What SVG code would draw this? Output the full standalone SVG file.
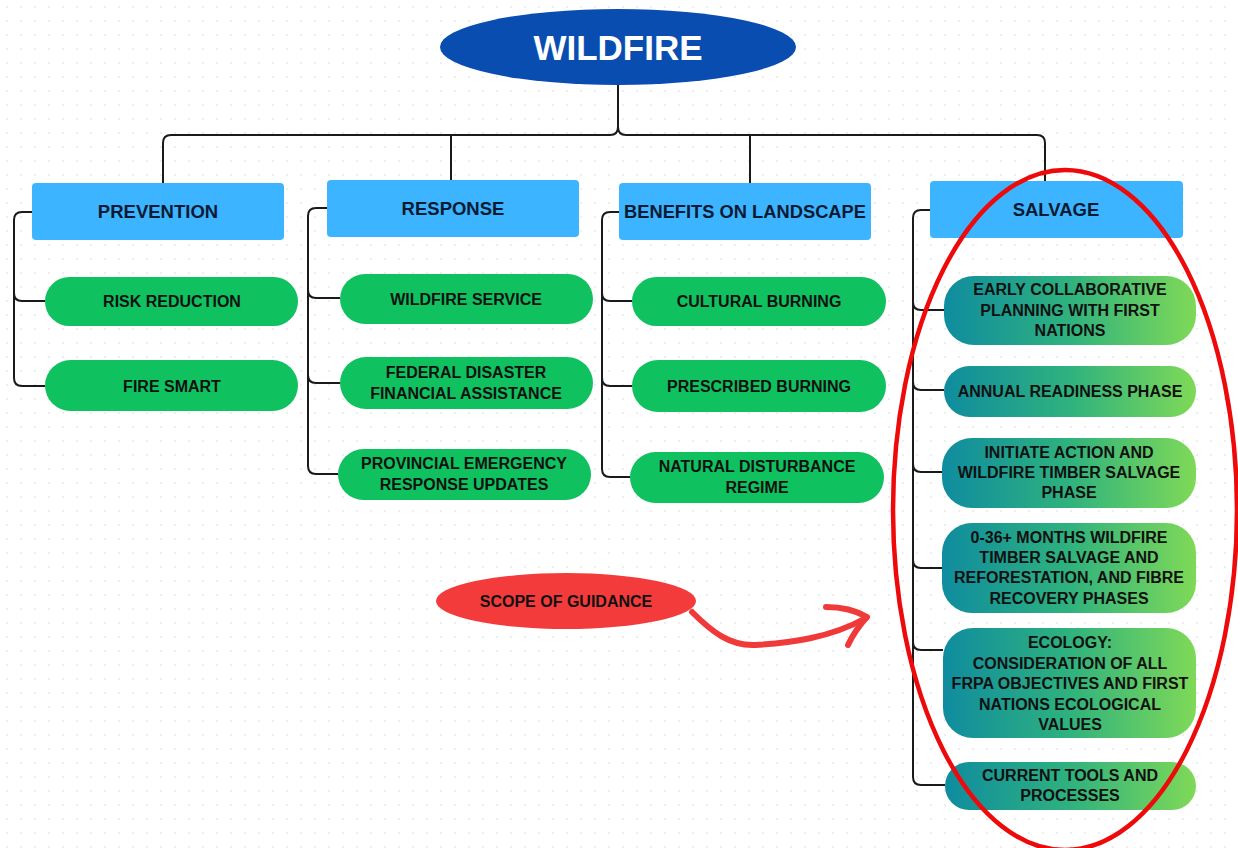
<svg xmlns="http://www.w3.org/2000/svg" width="1238" height="848" viewBox="0 0 1238 848">
<defs>
<pattern id="dots" width="14" height="14" patternUnits="userSpaceOnUse"><circle cx="7" cy="7" r="0.9" fill="#e6e6e6"/></pattern>
<linearGradient id="grad" x1="0" y1="0" x2="1" y2="0"><stop offset="0" stop-color="#0f8c9f"/><stop offset="0.5" stop-color="#2fb27e"/><stop offset="1" stop-color="#7fd957"/></linearGradient>
<style>
.hdr{fill:#3cb4ff}
.grn{fill:#10c160}
.sal{fill:url(#grad)}
.t{font-family:"Liberation Sans",Arial,sans-serif;font-weight:bold;font-size:16px;fill:#111;text-anchor:middle}
.th{font-family:"Liberation Sans",Arial,sans-serif;font-weight:bold;font-size:18.5px;fill:#0b1a33;text-anchor:middle}
.c{fill:none;stroke:#1a1a1a;stroke-width:2}
</style>
</defs>
<rect width="1238" height="848" fill="#ffffff"/>
<rect width="1238" height="848" fill="url(#dots)"/>

<g id="connectors">
<path class="c" d="M618 85 V127 Q618 135 610 135 H171 Q163 135 163 143 V183"/>
<path class="c" d="M618 127 Q618 135 626 135 H1037 Q1045 135 1045 143 V181"/>
<path class="c" d="M451 135 V180"/>
<path class="c" d="M750 135 V183"/>
<path class="c" d="M32 212 H22 Q14 212 14 220 V378 Q14 386 22 386 H45"/>
<path class="c" d="M14 293 Q14 301 22 301 H45"/>
<path class="c" d="M327 208 H316 Q308 208 308 216 V466 Q308 474 316 474 H338"/>
<path class="c" d="M308 290 Q308 298 316 298 H340"/>
<path class="c" d="M308 375 Q308 383 316 383 H340"/>
<path class="c" d="M619 212 H610 Q602 212 602 220 V469 Q602 477 610 477 H630"/>
<path class="c" d="M602 293 Q602 301 610 301 H632"/>
<path class="c" d="M602 378 Q602 386 610 386 H632"/>
<path class="c" d="M930 210 H921 Q913 210 913 218 V777 Q913 785 921 785 H945"/>
<path class="c" d="M913 302 Q913 310 921 310 H944"/>
<path class="c" d="M913 382 Q913 390 921 390 H944"/>
<path class="c" d="M913 464 Q913 472 921 472 H942"/>
<path class="c" d="M913 560 Q913 568 921 568 H942"/>
<path class="c" d="M913 642 Q913 650 921 650 H943"/>
</g>

<g id="wildfire">
<ellipse cx="618" cy="47" rx="178" ry="38" fill="#0a4db0"/>
<text x="618" y="60" font-family="Liberation Sans,Arial,sans-serif" font-weight="bold" font-size="35" fill="#fff" text-anchor="middle">WILDFIRE</text>
</g>

<g id="prevention"><rect class="hdr" x="32" y="183" width="252" height="57" rx="4"/><text class="th" x="158" y="218">PREVENTION</text></g>
<g id="response"><rect class="hdr" x="327" y="180" width="252" height="57" rx="4"/><text class="th" x="453" y="215">RESPONSE</text></g>
<g id="benefits"><rect class="hdr" x="619" y="183" width="252" height="57" rx="4"/><text class="th" x="745" y="218" textLength="242" lengthAdjust="spacingAndGlyphs">BENEFITS ON LANDSCAPE</text></g>
<g id="salvage"><rect class="hdr" x="930" y="181" width="253" height="57" rx="4"/><text class="th" x="1056" y="216">SALVAGE</text></g>

<g id="risk-reduction"><rect class="grn" x="45" y="277" width="253" height="49" rx="24.5"/><text class="t" x="172" y="307">RISK REDUCTION</text></g>
<g id="fire-smart"><rect class="grn" x="45" y="360" width="253" height="51" rx="25.5"/><text class="t" x="172" y="392">FIRE SMART</text></g>

<g id="wildfire-service"><rect class="grn" x="340" y="274" width="253" height="50" rx="25"/><text class="t" x="466" y="305">WILDFIRE SERVICE</text></g>
<g id="federal"><rect class="grn" x="340" y="357" width="253" height="52" rx="26"/><text class="t" x="466" y="378">FEDERAL DISASTER</text><text class="t" x="466" y="399">FINANCIAL ASSISTANCE</text></g>
<g id="provincial"><rect class="grn" x="338" y="449" width="253" height="51" rx="25.5"/><text class="t" x="464" y="469">PROVINCIAL EMERGENCY</text><text class="t" x="464" y="490">RESPONSE UPDATES</text></g>

<g id="cultural"><rect class="grn" x="632" y="277" width="254" height="49" rx="24.5"/><text class="t" x="759" y="307">CULTURAL BURNING</text></g>
<g id="prescribed"><rect class="grn" x="632" y="360" width="254" height="52" rx="26"/><text class="t" x="759" y="392">PRESCRIBED BURNING</text></g>
<g id="natural"><rect class="grn" x="630" y="452" width="254" height="51" rx="25.5"/><text class="t" x="757" y="472">NATURAL DISTURBANCE</text><text class="t" x="757" y="493">REGIME</text></g>

<g id="early"><rect class="sal" x="944" y="276" width="252" height="69" rx="30"/><text class="t" x="1070" y="295">EARLY COLLABORATIVE</text><text class="t" x="1070" y="316">PLANNING WITH FIRST</text><text class="t" x="1070" y="336">NATIONS</text></g>
<g id="annual"><rect class="sal" x="944" y="366" width="252" height="51" rx="25.5"/><text class="t" x="1070" y="397">ANNUAL READINESS PHASE</text></g>
<g id="initiate"><rect class="sal" x="942" y="438" width="254" height="70" rx="30"/><text class="t" x="1069" y="458">INITIATE ACTION AND</text><text class="t" x="1069" y="478">WILDFIRE TIMBER SALVAGE</text><text class="t" x="1069" y="498">PHASE</text></g>
<g id="months"><rect class="sal" x="942" y="523" width="254" height="90" rx="30"/><text class="t" x="1069" y="543">0-36+ MONTHS WILDFIRE</text><text class="t" x="1069" y="563">TIMBER SALVAGE AND</text><text class="t" x="1069" y="583">REFORESTATION, AND FIBRE</text><text class="t" x="1069" y="604">RECOVERY PHASES</text></g>
<g id="ecology"><rect class="sal" x="943" y="628" width="253" height="110" rx="30"/><text class="t" x="1070" y="648">ECOLOGY:</text><text class="t" x="1070" y="669">CONSIDERATION OF ALL</text><text class="t" x="1070" y="689">FRPA OBJECTIVES AND FIRST</text><text class="t" x="1070" y="710">NATIONS ECOLOGICAL</text><text class="t" x="1070" y="730">VALUES</text></g>
<g id="current"><rect class="sal" x="945" y="762" width="251" height="48" rx="24"/><text class="t" x="1070" y="781">CURRENT TOOLS AND</text><text class="t" x="1070" y="801">PROCESSES</text></g>

<g id="scope-ellipse"><ellipse cx="1065" cy="510" rx="172" ry="340" fill="none" stroke="#ee0a0a" stroke-width="4.5"/></g>

<g id="scope">
<ellipse cx="566" cy="601" rx="130" ry="28" fill="#f33b3b"/>
<text class="t" x="566" y="607" font-size="16">SCOPE OF GUIDANCE</text>
</g>
<g id="scope-arrow" fill="none" stroke="#f03a3a" stroke-linecap="round" stroke-linejoin="round">
<path d="M692 612 C712 632 730 646 755 645 C790 643 830 638 866 618" stroke-width="6"/>
<path d="M826 607 Q850 607 867 617 Q855 630 848 645" stroke-width="6"/>
</g>
</svg>
